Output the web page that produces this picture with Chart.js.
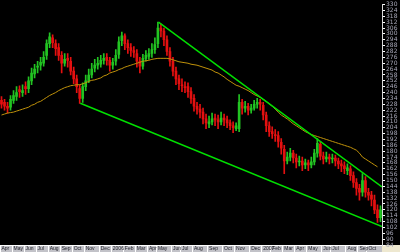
<!DOCTYPE html>
<html>
<head>
<meta charset="utf-8">
<title>Velas semanales</title>
<script src="https://cdn.jsdelivr.net/npm/chart.js@4.4.1/dist/chart.umd.min.js"></script>
<style>
	html, body { margin:0; padding:0; background:#000; overflow:hidden; }
	canvas { display:block; }
</style>
</head>
<body>
<canvas id="grafica" width="400" height="252"></canvas>
<script>
	// velas (apertura, maximo, minimo, cierre)
	var opens = [232,230,226,225,232,236,243,240,246,244,
		252,259,266,268,270,278,290,296,290,286,
		278,270,275,272,262,254,244,234,246,252,
		258,265,268,269,273,276,273,268,272,279,
		293,298,290,286,283,280,272,267,275,277,
		280,284,290,306,303,294,282,272,262,254,
		248,246,246,241,234,226,223,220,213,208,
		210,214,212,210,214,212,209,206,203,203,
		230,224,226,222,224,228,230,227,217,206,
		200,197,196,189,182,170,174,178,173,169,
		170,166,168,166,169,178,187,175,172,174,
		172,173,170,167,165,160,162,155,148,142,
		138,150,138,135,130,120,112];
	var highs = [236,233,230,237,242,246,247,248,251,256,
		265,269,272,276,282,294,301,299,294,290,
		282,280,280,276,266,258,248,250,258,264,
		270,274,276,278,280,280,276,275,284,297,
		302,300,294,290,287,284,276,279,283,285,
		290,296,312,310,306,298,286,276,266,258,
		254,251,250,245,238,230,228,224,218,216,
		219,218,217,220,218,216,212,210,209,238,
		233,231,229,228,232,234,233,230,220,210,
		205,202,200,193,186,179,183,181,177,175,
		174,172,171,174,182,193,190,179,179,177,
		177,176,173,171,169,167,165,159,152,146,
		157,154,142,139,135,125,124];
	var lows = [224,222,219,222,229,232,235,236,238,240,
		248,255,260,263,267,274,286,286,278,273,
		260,267,266,258,249,240,229,230,242,250,
		255,261,264,266,269,268,262,264,268,275,
		288,284,280,277,276,266,260,264,272,274,
		276,280,286,297,288,278,267,257,248,243,
		241,240,235,229,221,218,214,208,203,204,
		207,206,203,207,206,204,202,199,201,200,
		218,220,217,219,222,224,222,212,200,195,
		193,190,184,177,157,167,170,168,163,165,
		160,162,160,163,166,174,171,167,169,167,
		168,165,162,159,157,156,150,143,135,130,
		134,133,130,124,116,107,108];
	var closes = [228,226,224,233,237,240,241,242,244,252,
		260,264,267,271,276,290,297,291,285,278,
		270,274,273,262,254,246,234,246,252,258,
		264,268,270,273,275,273,268,271,278,292,
		298,290,286,283,281,272,267,275,278,280,
		284,289,306,303,294,282,272,262,254,249,
		247,245,241,234,226,223,220,213,209,210,
		213,212,210,214,212,209,206,204,206,230,
		224,226,222,224,228,230,228,217,206,200,
		198,196,190,183,170,174,178,173,169,170,
		166,168,166,169,178,188,175,172,174,172,
		173,170,167,165,162,163,155,148,142,138,
		150,138,135,131,120,112,120];

	// media movil
	var media = [217,218,219,219.5,220,221,222,223,224,225,
		227,228,230,231,233,235,237,238.5,240,242,
		243.5,245,246,247,247.5,248,248,249,250,251.5,
		252.5,253,254,255,257,258,260,261,262,263.5,
		264.5,266,267,268,269,270,271,272,272.5,273,
		274,274.5,275,275,275,275,274.5,273.5,272.5,271.5,
		271,270.5,270,269,268.5,268,267,266,265,264,
		263,261,260,258,256,253.5,251.5,249.5,247.5,246.5,
		245,243.5,242,240,238,236.5,235,233,231,228.5,
		226,223,220,217,215,213,210.5,208,206,204,
		202,200,198.5,197,196,195,194,193,192,191,
		190,189,188,187,186,185,184,182.5,181,178,
		174,172,170,168,166,164,null];

	// lineas de tendencia [indice, valor]
	var tendSup = [[52.2, 312], [126.5, 143.5]];
	var tendInf = [[26.2, 229], [126.5, 102.9]];

	var meses = ['Apr','May','Jun','Jul','Aug','Sep','Oct','Nov','Dec','2006','Feb','Mar',
		'Apr','May','Jun','Jul','Aug','Sep','Oct','Nov','Dec','2007','Feb','Mar',
		'Apr','May','Jun','Jul','Aug','Sep','Oct'];
	var mesIdx = [0,4,8,12,16,20,24,28,33,37,41,45,49,52,57,60,64,69,74,78,83,87,90,94,98,102,107,110,115,119,122];

	var etiquetas = opens.map(function(o, i){ return i; });
	var cuerpos = opens.map(function(o, i){ return [o, closes[i]]; });
	var mechas = lows.map(function(l, i){ return [l, highs[i]]; });
	var colores = opens.map(function(o, i){ return closes[i] >= o ? '#22c422' : '#e41010'; });

	var fondo = {
		id: 'fondo',
		beforeDraw: function(chart){
			var c = chart.ctx, a = chart.chartArea;
			c.save();
			c.fillStyle = '#000';
			c.fillRect(0, 0, chart.width, chart.height);
			c.fillStyle = '#c2c2c8';
			c.fillRect(0, a.bottom, a.right, chart.height - a.bottom);
			c.fillStyle = '#eee8d0';
			c.fillRect(a.right, a.bottom, chart.width - a.right, chart.height - a.bottom);
			c.restore();
		}
	};

	var ctx = document.getElementById('grafica').getContext('2d');
	var grafica = new Chart(ctx, {
		type: 'bar',
		data: {
			labels: etiquetas,
			datasets: [{
				type: 'line', label: 'sup', xAxisID: 'x2',
				data: tendSup.map(function(p){ return {x: p[0], y: p[1]}; }),
				borderColor: '#00e000', borderWidth: 1.5, pointRadius: 0, order: 0
			}, {
				type: 'line', label: 'inf', xAxisID: 'x2',
				data: tendInf.map(function(p){ return {x: p[0], y: p[1]}; }),
				borderColor: '#00e000', borderWidth: 1.5, pointRadius: 0, order: 0
			}, {
				type: 'line', label: 'media',
				data: media,
				borderColor: '#c0920a', borderWidth: 1, pointRadius: 0, order: 1
			}, {
				label: 'cuerpo', data: cuerpos, backgroundColor: colores,
				barThickness: 2, grouped: false, order: 2
			}, {
				label: 'mecha', data: mechas, backgroundColor: colores,
				barThickness: 1, grouped: false, order: 3
			}]
		},
		options: {
			responsive: false,
			devicePixelRatio: 1,
			animation: false,
			layout: { padding: 0 },
			plugins: { legend: { display: false }, tooltip: { enabled: false } },
			scales: {
				x: {
					type: 'category', offset: true, position: 'bottom',
					border: { color: '#ffffff', width: 1 },
					grid: {
						offset: true, drawOnChartArea: false, tickLength: 7,
						tickColor: function(c){ return mesIdx.indexOf(c.index) >= 0 ? '#ffffff' : 'rgba(0,0,0,0)'; }
					},
					ticks: {
						autoSkip: false, maxRotation: 0, minRotation: 0, align: 'start', padding: -6,
						color: '#202028', font: { family: 'Liberation Sans', size: 5 },
						callback: function(v, i){ var k = mesIdx.indexOf(i); return k >= 0 ? meses[k] : ''; }
					},
					afterFit: function(s){ s.height = 7; }
				},
				x2: { type: 'linear', display: false, offset: false, min: -0.5, max: 126.5 },
				y: {
					position: 'right', min: 84, max: 330,
					border: { color: '#d8d8d8' },
					grid: { drawOnChartArea: false, tickLength: 3, color: '#ffffff' },
					ticks: {
						stepSize: 6, autoSkip: false, padding: 1,
						color: '#a8a8b8', font: { family: 'DejaVu Sans', size: 6 }
					},
					afterFit: function(s){ s.width = 18; }
				}
			}
		},
		plugins: [fondo]
	});
</script>
</body>
</html>
